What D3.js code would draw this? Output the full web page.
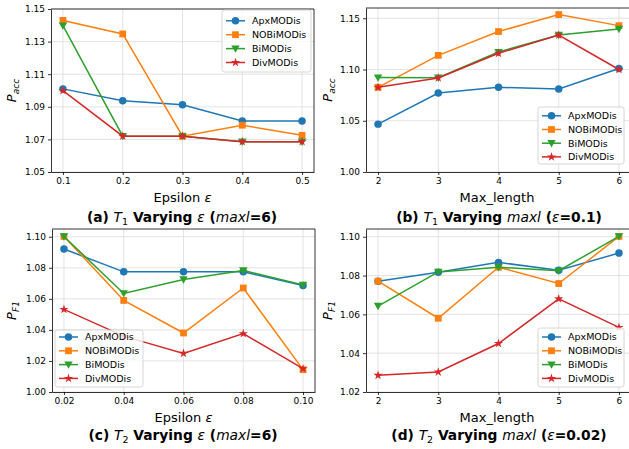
<!DOCTYPE html>
<html><head><meta charset="utf-8">
<script src="https://cdn.jsdelivr.net/npm/d3@7"></script>
<style>body{margin:0;background:#fff}svg{display:block}text{font-family:"DejaVu Sans",sans-serif}</style>
</head><body><svg id="c" width="629" height="449"></svg>
<script>
const seriesNames = ["ApxMODis","NOBiMODis","BiMODis","DivMODis"];
const colors = ["#1f77b4","#ff7f0e","#2ca02c","#d62728"];
const markers = ["circle","square","triDown","star"];

const epsT1 = [0.1,0.2,0.3,0.4,0.5];
const maxlVals = [2,3,4,5,6];
const epsT2 = [0.02,0.04,0.06,0.08,0.10];

const aApx  = [1.101,1.0937,1.0912,1.0813,1.0813];
const aNOBi = [1.143,1.1347,1.072,1.0787,1.0725];
const aBi   = [1.1398,1.072,1.072,1.0686,1.0686];
const aDiv  = [1.0999,1.072,1.072,1.0686,1.0686];

const bApx  = [1.0467,1.077,1.0826,1.081,1.101];
const bNOBi = [1.0826,1.1138,1.137,1.1536,1.1428];
const bBi   = [1.0921,1.092,1.117,1.1336,1.1395];
const bDiv  = [1.0826,1.0918,1.1158,1.1336,1.100];

const cApx  = [1.0921,1.0774,1.0774,1.0774,1.0686];
const cNOBi = [1.1002,1.059,1.038,1.067,1.0144];
const cBi   = [1.1002,1.0635,1.0725,1.0783,1.069];
const cDiv  = [1.0532,1.036,1.0249,1.0376,1.015];

const dApx  = [1.0771,1.0817,1.0868,1.0827,1.0916];
const dNOBi = [1.0771,1.058,1.0843,1.0759,1.1002];
const dBi   = [1.0643,1.0819,1.0843,1.0825,1.1002];
const dDiv  = [1.0286,1.0303,1.045,1.068,1.0533];

const ticksA_y = [1.05,1.07,1.09,1.11,1.13,1.15];
const ticksB_y = [1.00,1.05,1.10,1.15];
const ticksC_y = [1.00,1.02,1.04,1.06,1.08,1.10];
const ticksD_y = [1.02,1.04,1.06,1.08,1.10];

const svg = d3.select("#c");

function markerPath(type){
  if(type==="circle") return d3.symbol(d3.symbolCircle, 44)();
  if(type==="square") return d3.symbol(d3.symbolSquare, 46)();
  if(type==="triDown") return "M-4.2,-3.2L4.2,-3.2L0,4.2Z";
  return d3.symbol(d3.symbolStar, 26)();
}

function panel(cfg){
  const g = svg.append("g");
  const x = d3.scaleLinear().domain(cfg.xdom).range(cfg.xr);
  const y = d3.scaleLinear().domain(cfg.ydom).range(cfg.yr);
  const cid = "clip"+cfg.id;
  svg.append("clipPath").attr("id",cid).append("rect")
    .attr("x",cfg.xr[0]).attr("y",cfg.yr[1]).attr("width",cfg.xr[1]-cfg.xr[0]).attr("height",cfg.yr[0]-cfg.yr[1]);
  const grid = g.append("g").attr("stroke","#dcdcdc").attr("stroke-width",0.8);
  cfg.xs.forEach(v=>grid.append("line").attr("x1",x(v)).attr("x2",x(v)).attr("y1",cfg.yr[0]).attr("y2",cfg.yr[1]));
  cfg.yt.forEach(v=>grid.append("line").attr("y1",y(v)).attr("y2",y(v)).attr("x1",cfg.xr[0]).attr("x2",cfg.xr[1]));
  const data = cfg.series;
  const plot = g.append("g").attr("clip-path","url(#"+cid+")");
  data.forEach((vals,i)=>{
    const pts = cfg.xs.map((xv,j)=>[x(xv),y(vals[j])]);
    plot.append("path").attr("d",d3.line()(pts)).attr("fill","none")
      .attr("stroke",colors[i]).attr("stroke-width",1.5);
    pts.forEach(p=>plot.append("path").attr("d",markerPath(markers[i]))
      .attr("transform",`translate(${p[0]},${p[1]})`).attr("fill",colors[i]));
  });
  const xa = g.append("g").attr("transform",`translate(0,${cfg.yr[0]})`)
    .call(d3.axisBottom(x).tickValues(cfg.xs).tickFormat(cfg.xfmt).tickSize(3).tickPadding(3).tickSizeOuter(0));
  const ya = g.append("g").attr("transform",`translate(${cfg.xr[0]},0)`)
    .call(d3.axisLeft(y).tickValues(cfg.yt).tickFormat(d3.format(".2f")).tickSize(3).tickPadding(3).tickSizeOuter(0));
  [xa,ya].forEach(a=>{a.selectAll("text").attr("font-size",9).attr("fill","#000").attr("font-family","DejaVu Sans");
    a.selectAll("line").attr("stroke","#000").attr("stroke-width",0.8);
    a.select(".domain").attr("stroke","#000").attr("stroke-width",0.8);});
  g.append("line").attr("x1",cfg.xr[0]).attr("x2",cfg.xr[1]).attr("y1",cfg.yr[1]).attr("y2",cfg.yr[1]).attr("stroke","#000").attr("stroke-width",0.8);
  g.append("line").attr("x1",cfg.xr[1]).attr("x2",cfg.xr[1]).attr("y1",cfg.yr[0]).attr("y2",cfg.yr[1]).attr("stroke","#000").attr("stroke-width",0.8);
  const yl = g.append("text").attr("transform",`translate(${cfg.ylx},${(cfg.yr[0]+cfg.yr[1])/2}) rotate(-90)`)
    .attr("text-anchor","middle").attr("font-size",13);
  yl.append("tspan").attr("font-style","italic").text("P");
  yl.append("tspan").attr("font-style","italic").attr("font-size",9).attr("dy",3).text(cfg.ysub);
  const xl = g.append("text").attr("x",(cfg.xr[0]+cfg.xlx)/2).attr("y",cfg.xly).attr("text-anchor","middle").attr("font-size",13);
  cfg.xlabel.forEach(s=>xl.append("tspan").attr("font-style",s[1]?"italic":"normal").text(s[0]));
  const t = g.append("text").attr("x",cfg.tx).attr("y",cfg.ty).attr("text-anchor","middle").attr("font-size",13.8);
  cfg.title.forEach(s=>{
    const ts = t.append("tspan").attr("font-weight",s[1]==="b"?"bold":"normal").attr("font-style",s[1]==="i"||s[1]==="sub"?"italic":"normal").text(s[0]);
    if(s[1]==="sub"){ts.attr("font-size",9.5).attr("font-style","normal").attr("dy",3);}
    if(s[2]) ts.attr("dy",-3);
  });
  const L = cfg.leg;
  const lg = g.append("g");
  lg.append("rect").attr("x",L.x).attr("y",L.y).attr("width",L.w).attr("height",L.h).attr("rx",2.5)
    .attr("fill","#fff").attr("fill-opacity",0.8).attr("stroke","#cccccc").attr("stroke-width",0.8);
  seriesNames.forEach((n,i)=>{
    const yy = L.y0 + i*L.dy;
    const hx0 = L.x+4, hx1 = L.x+23;
    lg.append("line").attr("x1",hx0).attr("x2",hx1).attr("y1",yy).attr("y2",yy).attr("stroke",colors[i]).attr("stroke-width",1.5);
    lg.append("path").attr("d",markerPath(markers[i])).attr("transform",`translate(${(hx0+hx1)/2},${yy})`).attr("fill",colors[i]);
    lg.append("text").attr("x",L.x+30).attr("y",yy).attr("dy","0.35em").attr("font-size",9.5).text(n);
  });
}

panel({id:"a", xdom:[0.08,0.52], ydom:[1.05,1.15], xr:[51,314], yr:[172,9],
  xs:epsT1, yt:ticksA_y, xfmt:d3.format(".1f"), series:[aApx,aNOBi,aBi,aDiv],
  ysub:"acc", ylx:16, xlx:314, xly:202, xlabel:[["Epsilon "],["ε",1]],
  tx:182, ty:222, title:[["(a) ","b"],["T","i"],["1","sub"],[" Varying ","b",1],["ε","i"],[" (","b"],["maxl","i"],["=6)","b"]],
  leg:{x:222,y:10,w:89,h:62,y0:20.8,dy:13.9}});

panel({id:"b", xdom:[1.8,6.2], ydom:[1.00,1.16], xr:[366,631], yr:[172,8],
  xs:maxlVals, yt:ticksB_y, xfmt:d3.format("d"), series:[bApx,bNOBi,bBi,bDiv],
  ysub:"acc", ylx:332, xlx:628, xly:202, xlabel:[["Max_length"]],
  tx:499, ty:222, title:[["(b) ","b"],["T","i"],["1","sub"],[" Varying ","b",1],["maxl","i"],[" (","b"],["ε","i"],["=0.1)","b"]],
  leg:{x:538,y:107,w:86,h:57,y0:115.8,dy:13.7}});

panel({id:"c", xdom:[0.016,0.104], ydom:[1.00,1.105], xr:[52,315], yr:[392,229],
  xs:epsT2, yt:ticksC_y, xfmt:d3.format(".2f"), series:[cApx,cNOBi,cBi,cDiv],
  ysub:"F1", ylx:16, xlx:315, xly:422, xlabel:[["Epsilon "],["ε",1]],
  tx:183, ty:440, title:[["(c) ","b"],["T","i"],["2","sub"],[" Varying ","b",1],["ε","i"],[" (","b"],["maxl","i"],["=6)","b"]],
  leg:{x:55,y:330,w:88,h:57,y0:337,dy:13.8}});

panel({id:"d", xdom:[1.8,6.2], ydom:[1.02,1.104], xr:[366,631], yr:[392,229],
  xs:maxlVals, yt:ticksD_y, xfmt:d3.format("d"), series:[dApx,dNOBi,dBi,dDiv],
  ysub:"F1", ylx:332, xlx:628, xly:422, xlabel:[["Max_length"]],
  tx:499, ty:440, title:[["(d) ","b"],["T","i"],["2","sub"],[" Varying ","b",1],["maxl","i"],[" (","b"],["ε","i"],["=0.02)","b"]],
  leg:{x:538,y:328,w:86,h:59,y0:337,dy:13.8}});
</script></body></html>
